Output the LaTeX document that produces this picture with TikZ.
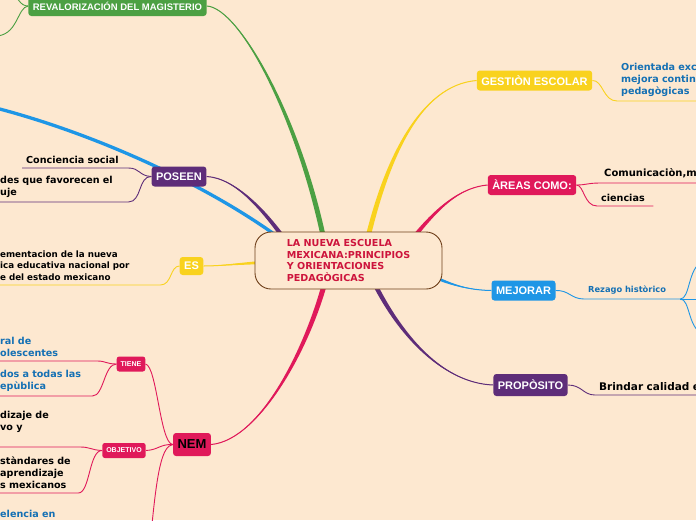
\documentclass[tikz,border=0pt]{standalone}
\usepackage{fontspec}
\setmainfont{DejaVu Sans}
\newfontfamily\boxfont{Liberation Sans}
\usepackage{tikz}
\usetikzlibrary{calc,backgrounds}

\definecolor{bgpeach}{RGB}{253,232,208}
\definecolor{mmgreen}{RGB}{76,160,67}
\definecolor{mmblue}{RGB}{30,150,230}
\definecolor{mmpurple}{RGB}{94,45,121}
\definecolor{mmyellow}{RGB}{249,210,30}
\definecolor{mmred}{RGB}{224,25,90}
\definecolor{leafblue}{RGB}{20,112,180}
\definecolor{titlered}{RGB}{205,20,60}
\definecolor{titlebrown}{RGB}{110,62,25}

% tapered main branch: colour, half width, start, control 1, control 2, end
\newcommand{\taper}[6]{%
  \fill[#1] ($(#3)!#2!90:(#4)$) .. controls ($(#4)!#2!90:(#5)$) and (#5) .. (#6)
    .. controls (#5) and ($(#4)!#2!-90:(#5)$) .. ($(#3)!#2!-90:(#4)$) -- cycle;
  \draw[#1, line width=1pt] (#3) .. controls (#4) and (#5) .. (#6);%
}

\begin{document}
\begin{tikzpicture}[
    x=1pt, y=-1pt,
    central/.style={rectangle, rounded corners=16pt, draw=titlebrown, line width=0.9pt, fill=bgpeach, text=titlered, minimum width=187pt, minimum height=57pt, inner sep=0pt, align=left, font=\bfseries\fontsize{9.6}{11.8}\selectfont},
    topic/.style={rectangle, rounded corners=3pt, fill=#1, text=white, inner xsep=4.5pt, inner ysep=0pt, minimum height=20pt, font=\boxfont\bfseries\fontsize{11}{13}\selectfont},
    subtopic/.style={rectangle, rounded corners=2.5pt, fill=mmred, text=white, inner xsep=4pt, inner ysep=0pt, minimum height=15pt, font=\boxfont\bfseries\fontsize{7}{8}\selectfont},
    leaf/.style={anchor=south west, align=left, text width=#1, inner xsep=4pt, inner ysep=4.5pt, font=\bfseries\fontsize{9.6}{12}\selectfont},
    twig/.style={line width=0.9pt}
]
    \useasboundingbox (0,0) rectangle (696,520);

    % Central idea
    \node[central] (titulo) at (348.5,260.5) {LA NUEVA ESCUELA\\MEXICANA:PRINCIPIOS\\Y ORIENTACIONES\\PEDAGÒGICAS};

    % Main topics
    \node[topic=mmgreen, font=\boxfont\bfseries\fontsize{9.5}{11}\selectfont] (rev) at (117.5,6) {REVALORIZACIÓN DEL MAGISTERIO};
    \node[topic=mmpurple] (poseen) at (179,176.5) {POSEEN};
    \node[topic=mmyellow, minimum height=18pt] (es) at (191.5,266) {ES};
    \node[topic=mmred, text=black, minimum height=23pt, font=\boxfont\bfseries\fontsize{13}{15}\selectfont] (nem) at (192,444.5) {NEM};
    \node[topic=mmyellow] (gestion) at (534.5,80.5) {GESTIÒN ESCOLAR};
    \node[topic=mmred] (areas) at (532,185) {ÀREAS COMO:};
    \node[topic=mmblue] (mejorar) at (523.5,290.5) {MEJORAR};
    \node[topic=mmpurple, minimum height=22pt] (proposito) at (530.5,385) {PROPÒSITO};

    % Sub topics of NEM
    \node[subtopic] (tiene) at (131,364) {TIENE};
    \node[subtopic] (objetivo) at (124,450.5) {OBJETIVO};

    % Leaves (left)
    \node[leaf=98pt] (conciencia) at (22,168) {Conciencia social};
    \node[leaf=124pt] (habilidades) at (-4,202) {des que favorecen el\\uje};
    \node[leaf=156pt, font=\bfseries\fontsize{8.75}{11.5}\selectfont] (implementa) at (-4,285) {ementacion de la nueva\\ica educativa nacional por\\e del estado mexicano};
    \node[leaf=93pt, text=leafblue] (integral) at (-4,361) {ral de\\olescentes};
    \node[leaf=88pt, text=leafblue] (estados) at (-4,396) {dos a todas las\\epùblica};
    \node[leaf=76pt] (aprend) at (-4,447) {dizaje de\\vo y\\\mbox{}};
    \node[leaf=74pt] (estandares) at (-4,493) {stàndares de\\aprendizaje\\s mexicanos};
    \node[leaf=80pt, text=leafblue] (excelencia) at (-4,522) {elencia en};

    % Leaves (right)
    \node[leaf=100pt, text=leafblue] (orientada) at (617,101) {Orientada exc\\mejora contin\\pedagògicas};
    \node[leaf=110pt, font=\bfseries\fontsize{10}{12}\selectfont] (comunica) at (600,183) {Comunicaciòn,m};
    \node[leaf=48pt] (ciencias) at (597,206) {ciencias};
    \node[leaf=88pt, text=leafblue, font=\bfseries\fontsize{8.3}{10}\selectfont] (rezago) at (584,299) {Rezago històrico};
    \node[leaf=130pt, font=\bfseries\fontsize{10.5}{12}\selectfont] (brindar) at (595,395) {Brindar calidad e};

    % Branch starts inside the title, free ends off the page
    \coordinate (srev) at (325,245);
    \coordinate (sblue) at (285,242);
    \coordinate (spos) at (292,250);
    \coordinate (ses) at (300,261);
    \coordinate (snem) at (328,270);
    \coordinate (sges) at (365,250);
    \coordinate (sare) at (400,255);
    \coordinate (smej) at (415,268);
    \coordinate (spro) at (368,270);
    \coordinate (revup) at (10,-12);
    \coordinate (revdown) at (-6,36);
    \coordinate (blueend) at (-12,106);
    \coordinate (nemdown) at (151,535);
    \coordinate (rezup) at (702,262);
    \coordinate (rezmid) at (702,299);
    \coordinate (rezdown) at (702,333);

    \begin{scope}[on background layer]
        \fill[bgpeach] (0,0) rectangle (696,520);

        % Main branches
        \taper{mmgreen}{2.5pt}{srev}{300,120}{240,8}{rev.east}
        \taper{mmpurple}{2.2pt}{spos}{265,210}{235,178}{poseen.east}
        \draw[mmblue, line width=3.3pt] (sblue) .. controls (205,182) and (85,130) .. (blueend);
        \taper{mmyellow}{2pt}{ses}{250,262}{225,266}{es.east}
        \taper{mmred}{2.6pt}{snem}{312,340}{262,440}{nem.east}
        \taper{mmyellow}{2.5pt}{sges}{385,160}{420,85}{gestion.west}
        \taper{mmred}{2.2pt}{sare}{430,215}{455,188}{areas.west}
        \taper{mmblue}{2pt}{smej}{440,280}{460,290}{mejorar.west}
        \taper{mmpurple}{2.3pt}{spro}{395,330}{440,383}{proposito.west}

        % Twigs
        \draw[twig, mmgreen] (rev.west) .. controls (20,6) and (18,-2) .. (revup);
        \draw[twig, mmgreen] (rev.west) .. controls (17,7) and (18,37) .. (revdown);
        \draw[twig, mmpurple] (poseen.west) .. controls (139,176) and (140,168) .. (conciencia.south east) -- (conciencia.south west);
        \draw[twig, mmpurple] (poseen.west) .. controls (138,176) and (142,202) .. (habilidades.south east) -- (habilidades.south west);
        \draw[twig, mmyellow] (es.west) .. controls (170,266) and (172,285) .. (implementa.south east) -- (implementa.south west);
        \draw[twig, mmred] (nem.west) .. controls (160,444) and (157,366) .. (tiene.east);
        \draw[twig, mmred] (nem.west) .. controls (160,444) and (158,450) .. (objetivo.east);
        \draw[twig, mmred] (nem.west) .. controls (162,446) and (157,470) .. (nemdown);
        \draw[twig, mmred] (tiene.west) .. controls (106,364) and (106,361) .. (integral.south east) -- (integral.south west);
        \draw[twig, mmred] (tiene.west) .. controls (104,364) and (104,396) .. (estados.south east) -- (estados.south west);
        \draw[twig, mmred] (objetivo.west) .. controls (91,450) and (90,447) .. (aprend.south east) -- (aprend.south west);
        \draw[twig, mmred] (objetivo.west) .. controls (89,450) and (90,493) .. (estandares.south east) -- (estandares.south west);
        \draw[twig, mmyellow] (gestion.east) .. controls (603,80) and (603,101) .. (orientada.south west) -- (orientada.south east);
        \draw[twig, mmred] (areas.east) .. controls (586,185) and (588,183) .. (comunica.south west) -- (comunica.south east);
        \draw[twig, mmred] (areas.east) .. controls (584,185) and (584,206) .. (ciencias.south west) -- (ciencias.south east);
        \draw[twig, mmblue] (mejorar.east) .. controls (569,290) and (571,299) .. (rezago.south west) -- (rezago.south east);
        \draw[twig, mmblue] (rezago.south east) .. controls (690,299) and (688,268) .. (rezup);
        \draw[twig, mmblue] (rezago.south east) -- (rezmid);
        \draw[twig, mmblue] (rezago.south east) .. controls (690,299) and (688,328) .. (rezdown);
        \draw[twig, mmpurple] (proposito.east) .. controls (582,385) and (583,395) .. (brindar.south west) -- (brindar.south east);
    \end{scope}
\end{tikzpicture}
\end{document}
